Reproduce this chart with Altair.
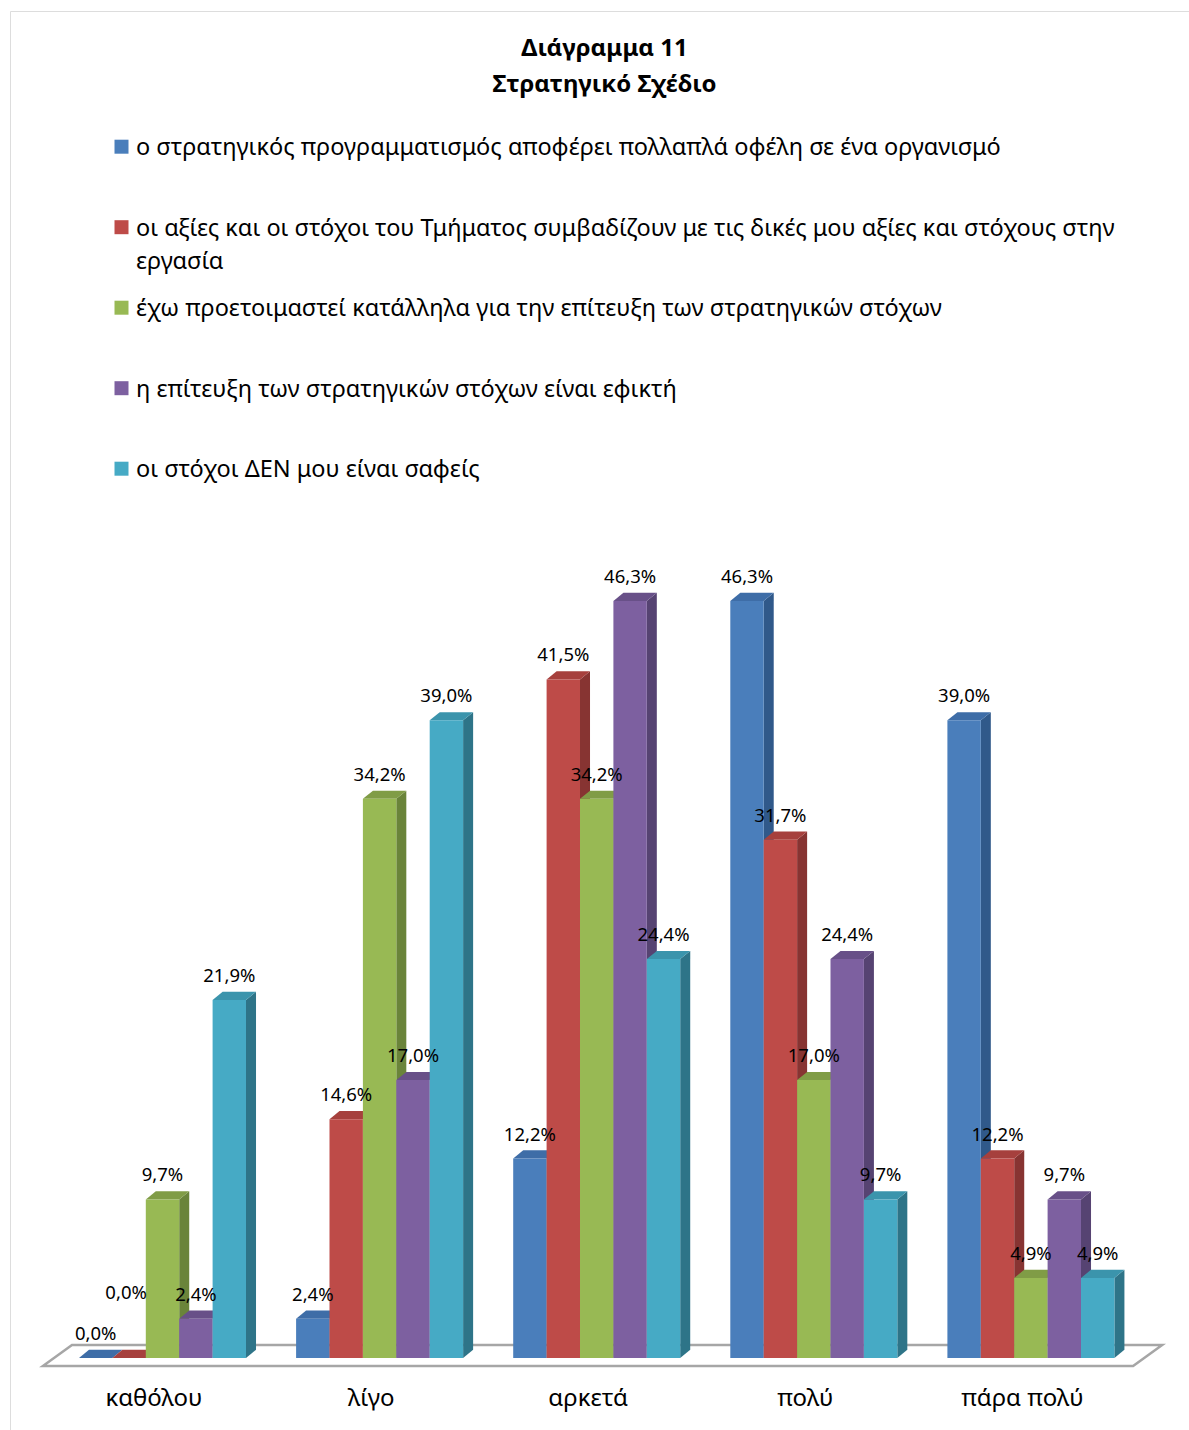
import altair as alt
import pandas as pd

# ---------------- data ----------------
categories = ["καθόλου", "λίγο", "αρκετά", "πολύ", "πάρα πολύ"]
series_names = [
    "ο στρατηγικός προγραμματισμός αποφέρει πολλαπλά οφέλη σε ένα οργανισμό",
    "οι αξίες και οι στόχοι του Τμήματος συμβαδίζουν με τις δικές μου αξίες και στόχους στην εργασία",
    "έχω προετοιμαστεί κατάλληλα για την επίτευξη των στρατηγικών στόχων",
    "η επίτευξη των στρατηγικών στόχων είναι εφικτή",
    "οι στόχοι ΔΕΝ μου είναι σαφείς",
]
s_benefits = [0.0, 2.4, 12.2, 46.3, 39.0]
s_values = [0.0, 14.6, 41.5, 31.7, 12.2]
s_prepared = [9.7, 34.2, 34.2, 17.0, 4.9]
s_feasible = [2.4, 17.0, 46.3, 24.4, 9.7]
s_unclear = [21.9, 39.0, 24.4, 9.7, 4.9]
series_values = [s_benefits, s_values, s_prepared, s_feasible, s_unclear]

title_lines = ["Διάγραμμα 11", "Στρατηγικό Σχέδιο"]

# ---------------- style ----------------
FONT = "Noto Sans"
front_colors = ["#4A7EBB", "#BE4B48", "#98B954", "#7D60A0", "#46AAC5"]
top_colors = ["#3E6DA7", "#A6403D", "#809C46", "#685088", "#3B94AC"]
side_colors = ["#30598A", "#873432", "#6A843A", "#564372", "#2E7488"]

N_SER = len(series_names)
GROUP_GAP = 1.5
STEP = N_SER + GROUP_GAP          # group step in bar-width units
DX = 0.30                          # 3D depth in x (bar units)
DY = 0.50                          # 3D depth in y (value units)

# ---------------- tables ----------------
bars, sides, tops = [], [], []
for j, (name, vals) in enumerate(zip(series_names, series_values)):
    for i, (cat, v) in enumerate(zip(categories, vals)):
        x0 = i * STEP + j
        x1 = x0 + 1
        bid = f"{j}-{i}"
        # a label whose left neighbour shows the same value at the same height is lifted
        prev = series_values[j - 1][i] if j > 0 else None
        lifted = prev is not None and prev == v
        bars.append(dict(series=name, cat=cat, x0=x0, x1=x1, xc=x0 + 0.5, v=v, base=0.0,
                         lifted=lifted,
                         label=f"{v:.1f}".replace(".", ",") + "%"))
        sides += [dict(bid=bid, series=name, x=x1, y=v, y2=0.0),
                  dict(bid=bid, series=name, x=x1 + DX, y=v + DY, y2=DY)]
        tops += [dict(bid=bid, series=name, x=x0, y=v, y2=v),
                 dict(bid=bid, series=name, x=x0 + DX, y=v + DY, y2=v),
                 dict(bid=bid, series=name, x=x1, y=v + DY, y2=v),
                 dict(bid=bid, series=name, x=x1 + DX, y=v + DY, y2=v + DY)]
bars_df = pd.DataFrame(bars)
sides_df = pd.DataFrame(sides)
tops_df = pd.DataFrame(tops)

# floor plate (derived from layout)
last_x = (len(categories) - 1) * STEP + N_SER
f_l, f_r = -1.08, last_x + 0.56
f_dx, f_front, f_back = 0.87, -0.49, 0.795
floor_df = pd.DataFrame([
    dict(x=f_l, y=f_front, y2=f_front),
    dict(x=f_l + f_dx, y=f_back, y2=f_front),
    dict(x=f_r, y=f_back, y2=f_front),
    dict(x=f_r + f_dx, y=f_back, y2=f_back),
])

legend_text = [n for n in series_names]
legend_text[1] = legend_text[1].replace(" εργασία", "\nεργασία")
legend_df = pd.DataFrame(dict(i=list(range(N_SER)), series=series_names, text=legend_text))

# ---------------- scales ----------------
xscale = alt.Scale(domain=[0, last_x], range=[69, 1104.4], nice=False, zero=False)
yscale = alt.Scale(domain=[0, 50], range=[1347, 529.5], nice=False, zero=False)

def cscale(rng):
    return alt.Scale(domain=series_names, range=rng)

centers = [i * STEP + N_SER / 2 for i in range(len(categories))]
cat_js = "[" + ",".join("'" + c + "'" for c in categories) + "]"
label_expr = f"{cat_js}[round((datum.value - {N_SER/2}) / {STEP})]"

xaxis = alt.Axis(values=centers, labelExpr=label_expr, domain=False, ticks=False,
                 grid=False, title=None, labelFont=FONT, labelFontSize=24,
                 labelColor="black", labelPadding=0, labelBaseline="top",
                 offset=-44, labelOffset=-9, labelOverlap=False, labelFlush=False,
                 labelBound=False)

floor = alt.Chart(floor_df).mark_area(fill="white", stroke="#A6A6A6", strokeWidth=2.5).encode(
    x=alt.X("x:Q", scale=xscale, axis=xaxis),
    y=alt.Y("y:Q", scale=yscale, axis=None),
    y2="y2:Q",
)

side = alt.Chart(sides_df).mark_area(interpolate="linear").encode(
    x=alt.X("x:Q", scale=xscale, axis=xaxis),
    y=alt.Y("y:Q", scale=yscale, axis=None, stack=None),
    y2="y2:Q",
    detail="bid:N",
    color=alt.Color("series:N", scale=cscale(side_colors), legend=None),
)

top = alt.Chart(tops_df).mark_area(interpolate="linear").encode(
    x=alt.X("x:Q", scale=xscale, axis=xaxis),
    y=alt.Y("y:Q", scale=yscale, axis=None, stack=None),
    y2="y2:Q",
    detail="bid:N",
    color=alt.Color("series:N", scale=cscale(top_colors), legend=None),
)

front = alt.Chart(bars_df).mark_rect().encode(
    x=alt.X("x0:Q", scale=xscale, axis=xaxis),
    x2="x1:Q",
    y=alt.Y("v:Q", scale=yscale, axis=None),
    y2="base:Q",
    color=alt.Color("series:N", scale=cscale(front_colors), legend=None),
)

lab_enc = dict(
    x=alt.X("xc:Q", scale=xscale, axis=xaxis),
    y=alt.Y("v:Q", scale=yscale, axis=None),
    text="label:N",
)
labels = alt.Chart(bars_df).transform_filter("!datum.lifted").mark_text(
    font=FONT, fontSize=18.5, dy=-24, baseline="middle", align="center", color="black"
).encode(**lab_enc)
labels_lifted = alt.Chart(bars_df).transform_filter("datum.lifted").mark_text(
    font=FONT, fontSize=18.5, dy=-65, dx=-3, baseline="middle", align="center", color="black"
).encode(**lab_enc)

plot = alt.layer(floor, side, top, front, labels, labels_lifted).resolve_scale(color="independent")

lscale = alt.Scale(domain=[0, N_SER - 1], range=[135.7, 457.7], nice=False, zero=False)
leg_sq = alt.Chart(legend_df).mark_square(size=196, opacity=1).encode(
    x=alt.value(111.5),
    y=alt.Y("i:Q", scale=lscale, axis=None),
    color=alt.Color("series:N", scale=cscale(front_colors), legend=None),
)
leg_tx = alt.Chart(legend_df).mark_text(font=FONT, fontSize=23.5, align="left", baseline="top",
                                         dy=-10.5, lineHeight=33, lineBreak="\n",
                                         color="black").encode(
    x=alt.value(126),
    y=alt.Y("i:Q", scale=lscale, axis=None),
    text="text:N",
)
legend = alt.layer(leg_sq, leg_tx)

chart = alt.layer(plot, legend).resolve_scale(y="independent", color="independent").properties(
    width=1179,
    height=1419,
    autosize=alt.AutoSizeParams(type="none"),
    padding={"left": 10, "top": 11, "right": 0, "bottom": 0},
    title=alt.TitleParams(text=title_lines, font=FONT, fontSize=24, fontWeight="bold",
                          color="black", anchor="middle", offset=-86, lineHeight=36, dx=5),
).configure_view(stroke="#8C8C8C", strokeWidth=2).configure(background="white")

chart.save("out.html", embed_options={"renderer": "svg", "actions": False})
